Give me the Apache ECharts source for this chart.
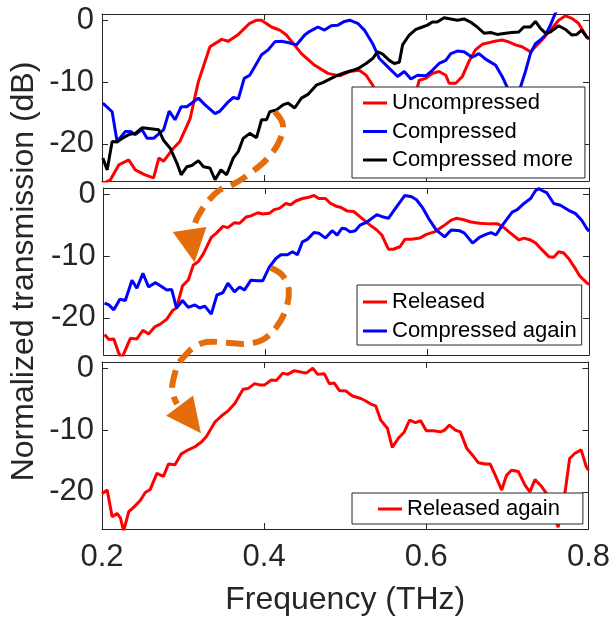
<!DOCTYPE html>
<html><head><meta charset="utf-8">
<script src="https://cdn.jsdelivr.net/npm/echarts@6/dist/echarts.min.js"></script>
<style>html,body{margin:0;padding:0;background:#fff}#c{width:613px;height:619px}</style>
</head><body><div id="c"></div><script>
// ---- data (frequency THz, normalized transmission dB) ----
const xTicks = [0.2, 0.4, 0.6, 0.8];
const yTicks = [-20, -10, 0];
const panel1Names = ['Uncompressed', 'Compressed', 'Compressed more'];
const panel2Names = ['Released', 'Compressed again'];
const panel3Names = ['Released again'];

const uncompressed = [[0.200,-26.5],[0.2104,-25.8],[0.2206,-23.4],[0.233,-22.6],[0.241,-24.2],[0.253,-25.0],[0.2636,-25.5],[0.270,-22.3],[0.276,-22.8],[0.288,-20.7],[0.296,-19.6],[0.3086,-15.9],[0.3188,-9.9],[0.333,-4.3],[0.3475,-3.1],[0.3556,-3.4],[0.368,-2.3],[0.382,-0.5],[0.3904,0],[0.3966,0],[0.4088,-1.1],[0.419,-1.6],[0.4272,-2.4],[0.4457,-5.4],[0.462,-7.3],[0.4783,-8.6],[0.4926,-9.0],[0.505,-8.3],[0.517,-8.1],[0.5254,-8.9],[0.5335,-10.5],[0.545,-14],[0.560,-16],[0.575,-14],[0.5887,-10.8],[0.5908,-9.7],[0.599,-9.4],[0.607,-8.6],[0.6153,-8.3],[0.6236,-8.9],[0.6276,-10.2],[0.6358,-10.2],[0.644,-9.1],[0.652,-6.7],[0.660,-4.8],[0.6685,-3.9],[0.6807,-3.5],[0.693,-3.2],[0.701,-3.5],[0.7094,-4.0],[0.7175,-4.3],[0.7278,-5.1],[0.734,-4.3],[0.742,-3.2],[0.7544,-1.3],[0.7626,0],[0.771,0.7],[0.779,0.3],[0.787,-0.5],[0.797,-2.7],[0.800,-3.0]];

const compressed = [[0.201,-13.4],[0.2125,-14.8],[0.2186,-19.6],[0.2288,-18.0],[0.235,-18.0],[0.241,-18.5],[0.2493,-17.7],[0.2555,-19.1],[0.2636,-19.1],[0.276,-17.7],[0.2828,-14.7],[0.290,-16.1],[0.2975,-14.0],[0.3045,-14.0],[0.3188,-12.6],[0.327,-13.7],[0.3393,-15.1],[0.3454,-14.7],[0.3556,-13.2],[0.3617,-12.5],[0.368,-12.7],[0.3752,-9.4],[0.382,-8.9],[0.3883,-7.5],[0.3966,-5.6],[0.4047,-4.8],[0.4129,-3.5],[0.421,-3.4],[0.429,-3.6],[0.4395,-4.0],[0.4497,-2.4],[0.456,-1.8],[0.466,-1.1],[0.4742,-1.6],[0.4824,-0.9],[0.4906,-0.8],[0.4988,-0.2],[0.505,0],[0.515,-0.5],[0.5233,-1.6],[0.5335,-3.8],[0.5417,-6.2],[0.554,-7.8],[0.5642,-9.1],[0.5724,-8.3],[0.5806,-9.5],[0.5887,-8.9],[0.599,-9.0],[0.607,-8.1],[0.6153,-7.0],[0.6236,-6.5],[0.6297,-5.4],[0.6378,-5.0],[0.646,-5.1],[0.656,-6.0],[0.6644,-5.4],[0.6726,-6.3],[0.685,-7.3],[0.693,-9.1],[0.699,-10.8],[0.704,-13],[0.709,-13.5],[0.7156,-10.8],[0.7217,-8.3],[0.7278,-5.4],[0.734,-3.8],[0.740,-3.2],[0.7463,-2.4],[0.7524,-0.8],[0.7585,1.1],[0.765,2.5],[0.780,3.5],[0.800,3.5]];

const compressedMore = [[0.201,-22.3],[0.2064,-24.2],[0.2125,-19.6],[0.2186,-19.7],[0.2248,-19.1],[0.233,-18.5],[0.241,-18.3],[0.2493,-17.4],[0.2574,-17.5],[0.2697,-17.7],[0.2758,-19.4],[0.284,-20.7],[0.2923,-23.1],[0.2975,-25.0],[0.3045,-23.7],[0.3107,-23.5],[0.3188,-22.7],[0.325,-23.7],[0.333,-23.9],[0.3393,-25.8],[0.3466,-24.2],[0.3536,-25.0],[0.3617,-22.3],[0.368,-21.2],[0.374,-19.1],[0.382,-18.3],[0.3904,-19.0],[0.3966,-16.1],[0.4027,-16.1],[0.4067,-14.8],[0.415,-14.5],[0.423,-13.7],[0.429,-13.4],[0.4374,-14.2],[0.4457,-12.6],[0.4537,-12.0],[0.464,-10.5],[0.472,-10.1],[0.4824,-9.4],[0.4906,-8.9],[0.4988,-8.5],[0.509,-8.1],[0.517,-7.7],[0.5254,-7.0],[0.5335,-6.2],[0.5396,-5.1],[0.5458,-5.5],[0.554,-6.5],[0.560,-7.0],[0.5663,-6.8],[0.5703,-4.0],[0.5785,-2.4],[0.5867,-1.5],[0.5948,-1.1],[0.601,-0.8],[0.607,-0.3],[0.613,-0.3],[0.6215,0.4],[0.6297,0.2],[0.6378,0],[0.646,0.2],[0.654,-0.3],[0.6623,-1.1],[0.6706,-2.1],[0.6788,-2.0],[0.6869,-2.3],[0.6972,-2.1],[0.705,-2.0],[0.7135,-1.9],[0.7196,-1.1],[0.7278,-1.1],[0.734,-0.2],[0.740,-1.3],[0.7463,-2.1],[0.7524,-1.9],[0.7626,-0.9],[0.771,-1.5],[0.779,-2.4],[0.785,-2.3],[0.791,-1.6],[0.797,-2.7],[0.800,-3.0]];

const released = [[0.201,-22.7],[0.2064,-23.5],[0.2125,-23.4],[0.2186,-25.7],[0.2227,-26.5],[0.2267,-25.2],[0.233,-23.3],[0.241,-23.4],[0.2485,-22.0],[0.2555,-22.6],[0.2636,-21.4],[0.270,-21.0],[0.278,-20.2],[0.2853,-18.8],[0.290,-18.4],[0.2975,-14.8],[0.3045,-13.9],[0.3107,-11.5],[0.3168,-10.9],[0.323,-9.7],[0.333,-7.0],[0.3393,-6.3],[0.3475,-5.2],[0.3536,-5.4],[0.3617,-4.6],[0.368,-4.7],[0.376,-3.7],[0.382,-3.5],[0.3904,-3.0],[0.3966,-3.2],[0.4047,-3.1],[0.4108,-2.5],[0.417,-2.3],[0.4252,-1.5],[0.4313,-1.7],[0.4374,-1.1],[0.4457,-0.7],[0.4537,-0.5],[0.460,-0.2],[0.466,-0.7],[0.4742,-0.7],[0.4804,-1.5],[0.4886,-2.0],[0.4926,-2.1],[0.5008,-2.7],[0.509,-2.8],[0.5193,-3.9],[0.5294,-5.0],[0.5377,-5.8],[0.5438,-6.6],[0.552,-8.9],[0.558,-8.9],[0.5663,-8.5],[0.5724,-7.3],[0.5806,-7.3],[0.5908,-7.1],[0.599,-6.5],[0.609,-6.1],[0.6194,-5.2],[0.6297,-4.2],[0.6358,-3.9],[0.644,-4.1],[0.654,-4.5],[0.6644,-4.7],[0.6767,-4.8],[0.6869,-4.8],[0.693,-5.2],[0.701,-6.1],[0.7135,-7.4],[0.7196,-7.1],[0.7278,-7.4],[0.734,-7.9],[0.742,-9.0],[0.7503,-10.1],[0.7564,-10.2],[0.7626,-9.3],[0.7687,-9.5],[0.7748,-10.4],[0.783,-12.0],[0.789,-13.3],[0.797,-14.3],[0.800,-14.6]];

const compressedAgain = [[0.201,-17.6],[0.2064,-17.9],[0.2125,-18.7],[0.220,-17.0],[0.2267,-17.2],[0.235,-13.9],[0.241,-15.2],[0.2485,-12.8],[0.2555,-15.0],[0.2636,-14.3],[0.270,-14.8],[0.278,-15.5],[0.284,-15.4],[0.290,-18.4],[0.2975,-17.2],[0.3045,-18.3],[0.3127,-17.9],[0.3188,-18.4],[0.325,-18.1],[0.333,-19.4],[0.340,-16.3],[0.3475,-15.9],[0.3536,-14.4],[0.3617,-15.8],[0.368,-15.0],[0.374,-15.5],[0.382,-13.9],[0.3904,-14.0],[0.3966,-14.0],[0.4047,-11.8],[0.4129,-10.4],[0.419,-9.8],[0.4272,-9.8],[0.4334,-9.3],[0.4395,-9.8],[0.4457,-7.7],[0.4518,-7.3],[0.460,-6.2],[0.466,-6.3],[0.4742,-7.1],[0.4824,-5.9],[0.4886,-6.6],[0.4947,-5.5],[0.4988,-5.6],[0.505,-6.1],[0.511,-5.9],[0.517,-5.0],[0.5254,-4.5],[0.5377,-3.3],[0.5458,-3.7],[0.552,-3.9],[0.5622,-2.0],[0.5724,-0.2],[0.5806,-0.4],[0.5867,-0.9],[0.5948,-2.3],[0.603,-4.2],[0.6113,-5.8],[0.6215,-6.9],[0.6297,-5.8],[0.6399,-5.9],[0.646,-6.3],[0.656,-7.9],[0.6644,-7.0],[0.6726,-6.5],[0.6788,-6.2],[0.685,-6.6],[0.693,-5.0],[0.705,-2.9],[0.7114,-2.5],[0.7196,-1.5],[0.7278,-0.7],[0.734,0.6],[0.738,0.9],[0.742,0.6],[0.748,0.2],[0.7564,-1.5],[0.7646,-1.8],[0.7748,-2.6],[0.783,-3.1],[0.791,-4.2],[0.797,-5.5],[0.800,-6.0]];

const releasedAgain = [[0.200,-20.3],[0.2064,-19.7],[0.2125,-24.0],[0.2186,-23.5],[0.2227,-24.2],[0.2267,-26.3],[0.233,-23.2],[0.239,-22.5],[0.2472,-21.4],[0.2534,-20.1],[0.2595,-19.6],[0.2677,-17.0],[0.2758,-17.5],[0.282,-15.5],[0.290,-15.6],[0.2975,-13.9],[0.3065,-13.2],[0.3147,-12.7],[0.323,-11.9],[0.329,-11.0],[0.3393,-8.7],[0.3475,-7.7],[0.3556,-6.9],[0.3638,-5.7],[0.374,-3.4],[0.380,-3.3],[0.3883,-2.5],[0.3945,-2.7],[0.4006,-2.7],[0.4088,-1.9],[0.415,-2.0],[0.423,-0.8],[0.429,-1.0],[0.4374,-0.4],[0.4518,-0.8],[0.460,0],[0.466,-1.0],[0.4742,-0.9],[0.4804,-2.5],[0.4865,-2.4],[0.4926,-3.6],[0.5008,-3.7],[0.509,-4.5],[0.5193,-4.9],[0.5254,-5.3],[0.5315,-5.8],[0.5377,-6.1],[0.5438,-8.4],[0.552,-9.7],[0.558,-12.8],[0.5663,-11.2],[0.5724,-10.4],[0.5794,-8.4],[0.5867,-8.8],[0.593,-8.5],[0.600,-10.1],[0.609,-10.1],[0.6174,-10.3],[0.6227,-10.0],[0.6285,-9.2],[0.6358,-10.0],[0.642,-10.3],[0.650,-13.0],[0.656,-13.9],[0.6644,-15.3],[0.6726,-15.5],[0.6788,-15.5],[0.685,-17.3],[0.693,-19.7],[0.699,-17.3],[0.705,-16.5],[0.7135,-16.7],[0.7217,-18.9],[0.7278,-20.0],[0.734,-18.0],[0.742,-19.1],[0.748,-20.2],[0.754,-22.5],[0.7626,-25.7],[0.771,-20.2],[0.7768,-14.6],[0.783,-13.8],[0.791,-13.2],[0.797,-15.8],[0.800,-16.5]];

// annotation arrows: [panelIndex, freq, dB]
const arrow1Path = [[0,0.4129,-14.8],[0,0.4227,-16.8],[0,0.419,-19.4],[0,0.4043,-22.3],[0,0.382,-24.8],[1,0.360,1.6],[1,0.343,0.65],[1,0.327,-1.45],[1,0.316,-3.7],[1,0.311,-5.4]];
const arrow1Head = [[1,0.2853,-6.1],[1,0.327,-5.3],[1,0.3123,-11.0]];
const arrow2Path = [[1,0.4067,-11.9],[1,0.4215,-13.2],[1,0.4288,-15.5],[1,0.4251,-18.7],[1,0.4129,-21.6],[1,0.397,-23.5],[1,0.376,-24.2],[1,0.3515,-24.0],[1,0.327,-23.9],[1,0.311,-24.8],[1,0.3012,-26.0],[2,0.2939,0.65],[2,0.289,-1.3],[2,0.2865,-3.2],[2,0.289,-4.8],[2,0.2926,-5.8]];
const arrow2Head = [[2,0.2791,-7.7],[2,0.3123,-4.4],[2,0.322,-10.5]];

// ---- chart ----
const FONT = "'Liberation Sans', Arial, Helvetica, sans-serif";
const AX = '#262626';
const ORANGE = '#E46C0A';
const chart = echarts.init(document.getElementById('c'), null, {renderer: 'canvas'});
const gridPos = [{top: 14, height: 167}, {top: 188, height: 167}, {top: 362, height: 167}];

const grids = gridPos.map(g => ({left: 102, width: 487, top: g.top, height: g.height, containLabel: false}));
const xAxes = [], yAxes = [];
['bottom', 'top'].forEach(pos => {
  for (let i = 0; i < 3; i++) {
    const labeled = pos === 'bottom' && i === 2;
    xAxes.push({
      type: 'value', gridIndex: i, position: pos, min: 0.2, max: 0.8,
      axisLine: {show: true, onZero: false, lineStyle: {color: AX, width: 1}},
      axisTick: {show: true, inside: true, length: 6, customValues: xTicks, lineStyle: {color: AX, width: 1}},
      axisLabel: {show: labeled, customValues: xTicks, formatter: v => v.toFixed(1), fontSize: 31, color: AX, fontFamily: FONT, margin: 13},
      splitLine: {show: false},
      name: labeled ? 'Frequency (THz)' : '', nameLocation: 'middle', nameGap: 55,
      nameTextStyle: {fontSize: 32, color: AX, fontFamily: FONT}
    });
  }
});
['left', 'right'].forEach(pos => {
  for (let i = 0; i < 3; i++) {
    const labeled = pos === 'left';
    yAxes.push({
      type: 'value', gridIndex: i, position: pos, min: -26, max: 1,
      axisLine: {show: true, onZero: false, lineStyle: {color: AX, width: 1}},
      axisTick: {show: true, inside: true, length: 6, customValues: yTicks, lineStyle: {color: AX, width: 1}},
      axisLabel: {show: labeled, customValues: yTicks, fontSize: 31, color: AX, fontFamily: FONT, margin: 8},
      splitLine: {show: false},
      name: (labeled && i === 1) ? 'Normalized transmission (dB)' : '', nameLocation: 'middle', nameGap: 58,
      nameRotate: 90,
      nameTextStyle: {fontSize: 32, color: AX, fontFamily: FONT}
    });
  }
});

function lineSeries(name, data, idx, color) {
  return {type: 'line', name, data, xAxisIndex: idx, yAxisIndex: idx, showSymbol: false, symbol: 'none',
    clip: true, lineStyle: {color, width: 3}, itemStyle: {color}, z: 3, emphasis: {disabled: true}};
}
const series = [
  lineSeries(panel1Names[0], uncompressed, 0, '#FF0000'),
  lineSeries(panel1Names[1], compressed, 0, '#0000FF'),
  lineSeries(panel1Names[2], compressedMore, 0, '#000000'),
  lineSeries(panel2Names[0], released, 1, '#FF0000'),
  lineSeries(panel2Names[1], compressedAgain, 1, '#0000FF'),
  lineSeries(panel3Names[0], releasedAgain, 2, '#FF0000')
];

const legendBase = {orient: 'vertical', selectedMode: false, icon: 'rect', itemWidth: 24, itemHeight: 3,
  borderColor: AX, borderWidth: 1, backgroundColor: '#ffffff', borderRadius: 0, z: 10,
  textStyle: {fontSize: 22, fontFamily: FONT, color: '#000'}};
const legends = [
  Object.assign({}, legendBase, {data: panel1Names, left: 352, top: 87, padding: [5, 12, 7, 11], itemGap: 6.5}),
  Object.assign({}, legendBase, {data: panel2Names, left: 357, top: 285, padding: [6, 5, 3, 6], itemGap: 7}),
  Object.assign({}, legendBase, {data: panel3Names, left: 352, top: 493, padding: [5, 23, 4, 26], itemGap: 6})
];

chart.setOption({animation: false, backgroundColor: '#fff', grid: grids, xAxis: xAxes, yAxis: yAxes, legend: legends, series});

function toPx(p) { return chart.convertToPixel({xAxisIndex: p[0], yAxisIndex: p[0]}, [p[1], p[2]]); }
function arrowGraphics(path, head) {
  return [
    {type: 'polyline', z: 100, shape: {points: path.map(toPx), smooth: 0.35},
      style: {stroke: ORANGE, lineWidth: 6, lineDash: [18, 9], fill: null, lineCap: 'butt'}},
    {type: 'polygon', z: 100, shape: {points: head.map(toPx)}, style: {fill: ORANGE, stroke: null}}
  ];
}
chart.setOption({graphic: [].concat(arrowGraphics(arrow1Path, arrow1Head), arrowGraphics(arrow2Path, arrow2Head))});
</script></body></html>
